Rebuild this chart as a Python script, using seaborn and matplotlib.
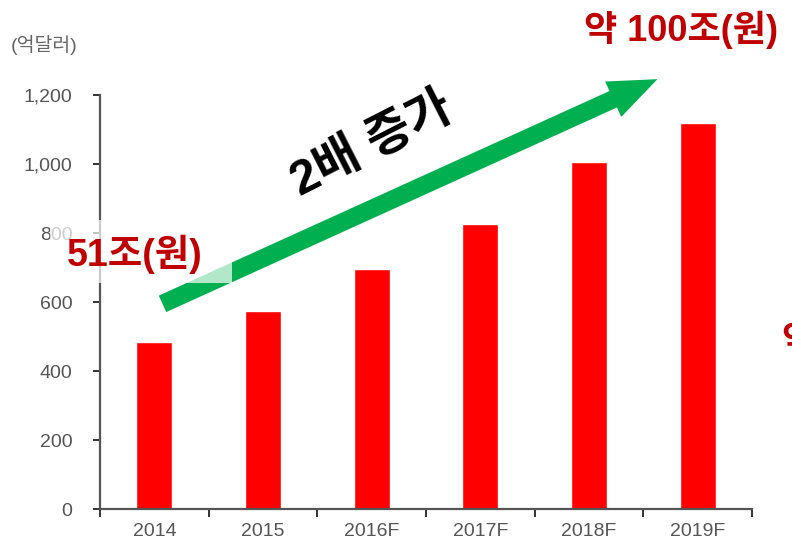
import pandas as pd
import seaborn as sns
import matplotlib.pyplot as plt
from matplotlib.patches import FancyArrowPatch, Rectangle

years = ['2014', '2015', '2016F', '2017F', '2018F', '2019F']
values = [485, 575, 695, 825, 1005, 1120]
y_ticks = [0, 200, 400, 600, 800, 1000, 1200]
y_labels = ['0', '200', '400', '600', '800', '1,000', '1,200']

df = pd.DataFrame({'year': years, 'value': values})

sns.set_theme(style="ticks")
plt.rcParams['font.family'] = ['Liberation Sans', 'Noto Sans CJK KR']

fig = plt.figure(figsize=(7.92, 5.5), dpi=100)
ax = fig.add_axes([0.1263, 0.0745, 0.8232, 0.7527])

sns.barplot(data=df, x='year', y='value', color='#FF0000', saturation=1, width=0.33, ax=ax)

ax.set_xlim(-0.5, 5.5)
ax.set_ylim(0, 1200)
ax.set_yticks(y_ticks)
ax.set_yticklabels(y_labels)
ax.set_xlabel('')
ax.set_ylabel('')
sns.despine(ax=ax)
for s in ['left', 'bottom']:
    ax.spines[s].set_color('#555555')
    ax.spines[s].set_linewidth(1.6)

ax.set_xticks([i - 0.5 for i in range(7)], minor=True)
ax.tick_params(axis='x', which='major', length=0, pad=10, labelsize=14, labelcolor='#555555')
ax.tick_params(axis='x', which='minor', length=6, width=1.4, color='#333333', direction='out')
ax.tick_params(axis='y', length=5, width=1.4, color='#333333', pad=15, labelsize=14, labelcolor='#555555')

# unit label
fig.text(0.013, 0.918, '(억달러)', fontsize=14, color='#666666', ha='left', va='center')

# green trend arrow
arrow = FancyArrowPatch((160 / 792, 1 - 305 / 550), (660 / 792, 1 - 78 / 550),
                        transform=fig.transFigure,
                        arrowstyle='simple,tail_width=1.3,head_width=2.8,head_length=3.5',
                        mutation_scale=10, color='#00B050', lw=0, zorder=3)
fig.add_artist(arrow)

fig.text(372 / 792, 1 - 146 / 550, '2배 증가', fontsize=35, fontweight='bold', color='black',
         rotation=27, ha='center', va='center', zorder=6)

# faded box behind the 51조 label
box = Rectangle((50 / 792, 1 - 283 / 550), 182 / 792, 63 / 550, transform=fig.transFigure,
                facecolor='white', alpha=0.7, edgecolor='none', zorder=4)
fig.add_artist(box)

fig.text(67 / 792, 1 - 254 / 550, '51조(원)', fontsize=27, fontweight='bold', color='#C00000',
         ha='left', va='center', zorder=5)
fig.text(584 / 792, 1 - 30 / 550, '약 100조(원)', fontsize=26, fontweight='bold', color='#C00000',
         ha='left', va='center', zorder=5)
fig.text(781 / 792, 1 - 342 / 550, '약', fontsize=26, fontweight='bold', color='#C00000',
         ha='left', va='center', zorder=5)

fig.savefig('out.png', dpi=100)
